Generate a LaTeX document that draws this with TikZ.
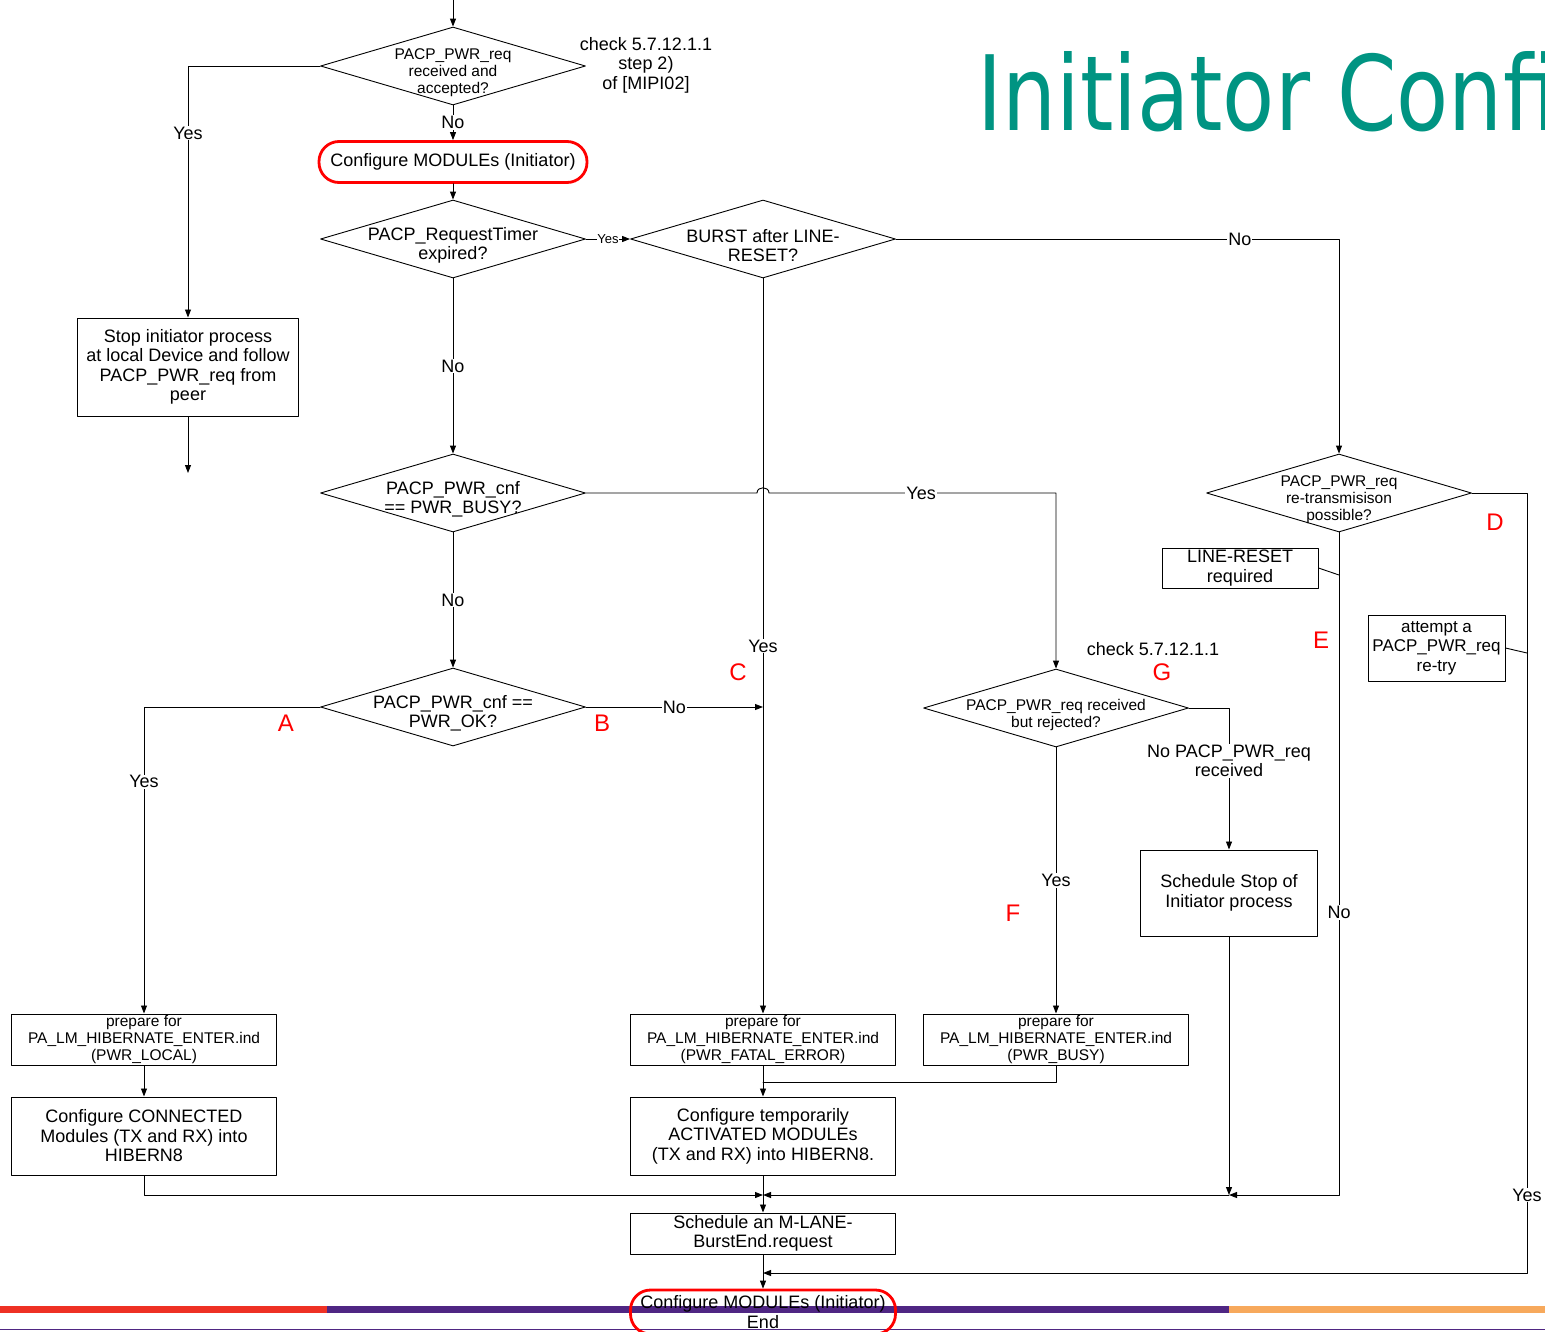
\documentclass[tikz,border=0pt]{standalone}
\usepackage{fontspec}
\usepackage{graphicx}
\setmainfont{Liberation Sans}
\newfontfamily\titlefont{DejaVu Sans}
\usetikzlibrary{shapes.geometric,arrows.meta,calc}

\definecolor{titleteal}{RGB}{0,148,130}
\definecolor{barred}{RGB}{238,49,36}
\definecolor{barpurple}{RGB}{79,38,131}
\definecolor{barorange}{RGB}{247,169,92}

\newcommand{\bigtxt}{\fontsize{18}{19.5}\selectfont}
\newcommand{\smalltxt}{\fontsize{15.5}{17}\selectfont}

\tikzset{
  box/.style={draw, line width=1pt, align=center, font=\bigtxt, inner sep=1pt},
  decision/.style={draw, diamond, line width=0.9pt, minimum width=265pt, minimum height=78pt, inner sep=0pt},
  dtext/.style={align=center, font=\bigtxt, inner sep=0pt, yshift=-6.5pt},
  terminal/.style={draw=red, line width=2.8pt, rounded corners=20pt, align=center, font=\bigtxt, minimum width=268pt, minimum height=41pt},
  arr/.style={line width=0.9pt, -{Triangle[length=8pt,width=6pt]}},
  lnk/.style={line width=0.9pt},
  lbl/.style={fill=white, inner sep=1pt, align=center, font=\bigtxt},
  tag/.style={text=red, font=\fontsize{24}{24}\selectfont},
}

\begin{document}
\begin{tikzpicture}[x=1pt,y=-1pt,line cap=round,line join=round]
\useasboundingbox (0,0) rectangle (1545,1331);
\clip (0,0) rectangle (1545,1331);

% --- footer bars ---
\fill[barred]    (0,1306) rectangle (327,1313);
\fill[barpurple] (327,1306) rectangle (1229,1313);
\fill[barorange] (1229,1306) rectangle (1545,1313);
\draw[barpurple, line width=1.5pt] (0,1329.5) -- (1545,1329.5);

% --- title ---
\node[anchor=base west, text=titleteal, font={\titlefont\fontsize{104}{110}\selectfont}, inner sep=0pt] (title) at (977,130) {\scalebox{0.82}[1]{Initiator Confi}};

% --- decisions ---
\node[decision, label={[dtext,font=\smalltxt]center:{PACP\_PWR\_req\\received and\\accepted?}}] (d1) at (453,66) {};
\node[decision, label={[dtext]center:{PACP\_RequestTimer\\expired?}}] (d2) at (453,239) {};
\node[decision, label={[dtext]center:{BURST after LINE-\\RESET?}}] (d3) at (763,239) {};
\node[decision, label={[dtext]center:{PACP\_PWR\_cnf\\== PWR\_BUSY?}}] (d4) at (453,493) {};
\node[decision, label={[dtext]center:{PACP\_PWR\_cnf ==\\PWR\_OK?}}] (d5) at (453,707) {};
\node[decision, label={[dtext,font=\smalltxt]center:{PACP\_PWR\_req received\\but rejected?}}] (dG) at (1056,708) {};
\node[decision, label={[dtext,font=\smalltxt]center:{PACP\_PWR\_req\\re-transmisison\\possible?}}] (dD) at (1339,493) {};

% --- terminals ---
\node[terminal] (cfg) at (453,162) {Configure MODULEs (Initiator)};
\node[terminal, minimum height=44pt, minimum width=265pt] (endn) at (763,1312) {Configure MODULEs (Initiator)\\End};

% --- process boxes ---
\node[box, minimum width=221pt, minimum height=98pt] (stop) at (188,367) {Stop initiator process\\at local Device and follow\\PACP\_PWR\_req from\\peer};
\node[box, font=\smalltxt, inner sep=0pt, minimum width=265pt, minimum height=51pt] (prepL) at (144,1039.5) {prepare for\\PA\_LM\_HIBERNATE\_ENTER.ind\\(PWR\_LOCAL)};
\node[box, font=\smalltxt, inner sep=0pt, minimum width=265pt, minimum height=51pt] (prepF) at (763,1039.5) {prepare for\\PA\_LM\_HIBERNATE\_ENTER.ind\\(PWR\_FATAL\_ERROR)};
\node[box, font=\smalltxt, inner sep=0pt, minimum width=265pt, minimum height=51pt] (prepB) at (1056,1039.5) {prepare for\\PA\_LM\_HIBERNATE\_ENTER.ind\\(PWR\_BUSY)};
\node[box, minimum width=265pt, minimum height=78pt] (conL) at (144,1136) {Configure CONNECTED\\Modules (TX and RX) into\\HIBERN8};
\node[box, minimum width=265pt, minimum height=78pt] (conT) at (763,1136) {Configure temporarily\\ACTIVATED MODULEs\\(TX and RX) into HIBERN8.};
\node[box, minimum width=265pt, minimum height=41pt] (mlane) at (763,1233.5) {Schedule an M-LANE-\\BurstEnd.request};
\node[box, minimum width=177pt, minimum height=86pt] (sched) at (1229,893) {Schedule Stop of\\Initiator process};
\node[box, minimum width=156pt, minimum height=40pt] (lr) at (1240,568) {LINE-RESET\\required};
\node[box, font={\fontsize{17}{19.5}\selectfont}, minimum width=137pt, minimum height=66pt] (retry) at (1436.5,648) {attempt a\\PACP\_PWR\_req\\re-try};

% --- side notes ---
\node[align=center, font=\bigtxt] (chk1) at (646,65) {check 5.7.12.1.1\\step 2)\\of [MIPI02]};
\node[font=\bigtxt] (chk2) at (1153,649) {check 5.7.12.1.1};

\node[tag] (tA) at (286,723) {A};
\node[tag] (tB) at (602,723) {B};
\node[tag] (tC) at (738,672) {C};
\node[tag] (tD) at (1495,522) {D};
\node[tag] (tE) at (1321,640) {E};
\node[tag] (tF) at (1013,913) {F};
\node[tag] (tG) at (1162,672) {G};

% --- junction points ---
\coordinate (top) at (453,0);
\coordinate (stopend) at (188,473);
\coordinate (hop) at (763,493);
\coordinate (jB) at (763,707);
\coordinate (jT) at (763,1082);
\coordinate (jM) at (763,1195);
\coordinate (jS) at (1229,1195);
\coordinate (yD) at (1527,1273);
\coordinate (jEnd) at (763,1273);
\coordinate (jE) at (1339,575);
\coordinate (jD) at (1527,653);

% --- connectors ---
\draw[arr] (top) -- (d1.north);
\draw[arr] (d1.west) -| node[lbl,pos=0.633]{Yes} (stop.north);
\draw[arr] (d1.south) -- node[lbl]{No} (cfg.north);
\draw[arr] (cfg.south) -- (d2.north);
\draw[arr] (d2.east) -- node[lbl,font={\fontsize{13}{13}\selectfont},inner sep=0.5pt]{Yes} (d3.west);
\draw[arr] (d3.east) -| node[lbl,pos=0.388]{No} (dD.north);
\draw[arr] (d3.south) -- node[lbl]{Yes} (prepF.north);
\draw[arr] (d2.south) -- node[lbl]{No} (d4.north);
\draw[arr] (d4.east) -- ($(hop)+(-6,0)$) .. controls ($(hop)+(-6,-7)$) and ($(hop)+(6,-7)$) .. ($(hop)+(6,0)$) -| node[lbl,pos=0.265]{Yes} (dG.north);
\draw[arr] (d4.south) -- node[lbl]{No} (d5.north);
\draw[arr] (d5.west) -| node[lbl,pos=0.622]{Yes} (prepL.north);
\draw[arr] (d5.east) -- node[lbl]{No} (jB);
\draw[arr] (dG.east) -| node[lbl,pos=0.687]{No PACP\_PWR\_req\\received} (sched.north);
\draw[arr] (dG.south) -- node[lbl]{Yes} (prepB.north);
\draw[arr] (dD.east) -| node[lbl,pos=0.95]{Yes} (yD) -- (jEnd);
\draw[arr] (dD.south) |- node[lbl,pos=0.287]{No} (jS);
\draw[lnk] (lr.east) -- (jE);
\draw[lnk] (retry.east) -- (jD);
\draw[arr] (stop.south) -- (stopend);
\draw[arr] (prepL.south) -- (conL.north);
\draw[arr] (prepF.south) -- (conT.north);
\draw[lnk] (prepB.south) |- (jT);
\draw[arr] (conL.south) |- (jM);
\draw[arr] (sched.south) -- (jS);
\draw[arr] (jS) -- (jM);
\draw[arr] (conT.south) -- (mlane.north);
\draw[arr] (mlane.south) -- (endn.north);
\end{tikzpicture}
\end{document}
